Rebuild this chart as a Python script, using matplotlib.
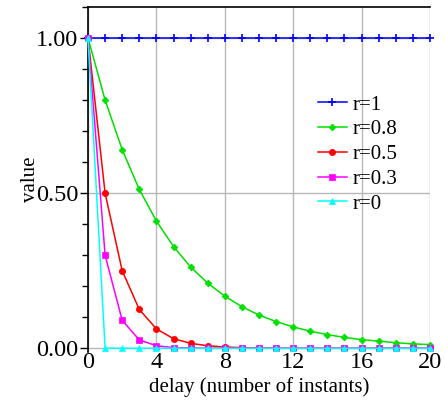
import matplotlib
matplotlib.use("Agg")
import matplotlib.pyplot as plt
from matplotlib.ticker import MultipleLocator

plt.rcParams["font.family"] = ["Liberation Serif", "DejaVu Serif"]

delay = list(range(21))

r_1 = [1.0] * 21
r_08 = [1.0, 0.8, 0.64, 0.512, 0.41, 0.328, 0.262, 0.21, 0.168, 0.134, 0.107,
        0.086, 0.069, 0.055, 0.044, 0.035, 0.028, 0.023, 0.018, 0.014, 0.012]
r_05 = [1.0, 0.5, 0.25, 0.125, 0.0625, 0.031, 0.016, 0.008, 0.004, 0.002, 0.001,
        0.0, 0.0, 0.0, 0.0, 0.0, 0.0, 0.0, 0.0, 0.0, 0.0]
r_03 = [1.0, 0.3, 0.09, 0.027, 0.008, 0.002, 0.001, 0.0, 0.0, 0.0, 0.0,
        0.0, 0.0, 0.0, 0.0, 0.0, 0.0, 0.0, 0.0, 0.0, 0.0]
r_0 = [1.0] + [0.0] * 20

series = [
    ("r=1", r_1, "#0000ff", "+", 6),
    ("r=0.8", r_08, "#00e000", "D", 3.5),
    ("r=0.5", r_05, "#ff0000", "o", 4.5),
    ("r=0.3", r_03, "#ff00ff", "s", 4.5),
    ("r=0", r_0, "#00ffff", "^", 4.5),
]

fig = plt.figure(figsize=(4.45, 4.01), dpi=100)
ax = fig.add_axes([88 / 445, 1 - 352 / 401, 342 / 445, 345 / 401])

for label, vals, color, marker, ms in series:
    ax.plot(delay, vals, color=color, marker=marker, markersize=ms, lw=1.1,
            markeredgewidth=1.2 if marker == "+" else 0.5,
            label=label, clip_on=False, zorder=3)

ax.set_xlim(0, 20)
ax.set_ylim(-0.012, 1.1)
ax.set_xticks([0, 4, 8, 12, 16, 20])
ax.set_yticks([0.0, 0.5, 1.0])
ax.set_yticklabels(["0.00", "0.50", "1.00"])
ax.yaxis.set_minor_locator(MultipleLocator(0.1))
ax.grid(True, which="major", color="#b8b8b8", lw=1)
ax.set_axisbelow(True)

for side in ("right", "bottom"):
    ax.spines[side].set_visible(False)
for side in ("left", "top"):
    ax.spines[side].set_linewidth(1.2)

ax.tick_params(axis="y", which="major", direction="out", length=6, width=1,
               labelsize=17.5, pad=1)
ax.tick_params(axis="y", which="minor", direction="out", length=4, width=1)
ax.tick_params(axis="x", length=0, labelsize=17.5, pad=0)

ax.set_xlabel("delay (number of instants)", fontsize=15, labelpad=3)
ax.set_ylabel("value", fontsize=15, labelpad=-3)

ax.legend(loc="upper left", bbox_to_anchor=(0.672, 0.745), frameon=False,
          fontsize=15, borderpad=0, borderaxespad=0, labelspacing=0.25,
          handlelength=1.4, handletextpad=0.25)

fig.savefig("out.png", dpi=100)
